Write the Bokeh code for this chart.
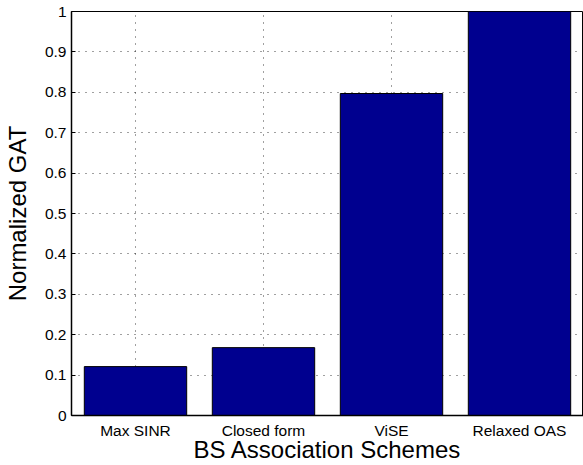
from bokeh.plotting import figure
from bokeh.models import FixedTicker, Range1d, ColumnDataSource
from bokeh.embed import file_html
from bokeh.resources import INLINE

schemes = ["Max SINR", "Closed form", "ViSE", "Relaxed OAS"]
normalized_gat = [0.121, 0.168, 0.797, 1.0]
y_ticks = [0, 0.1, 0.2, 0.3, 0.4, 0.5, 0.6, 0.7, 0.8, 0.9, 1]
y_tick_labels = ["0", "0.1", "0.2", "0.3", "0.4", "0.5", "0.6", "0.7", "0.8", "0.9", "1"]
x_title = "BS Association Schemes"
y_title = "Normalized GAT"

FONT = "Liberation Sans"

x_pos = list(range(1, len(schemes) + 1))
src = ColumnDataSource(data=dict(x=x_pos, top=normalized_gat))

p = figure(width=583, height=465,
           x_range=Range1d(0.5, len(schemes) + 0.5),
           y_range=Range1d(0, 1),
           output_backend="svg", toolbar_location=None,
           min_border_left=70, min_border_right=0,
           min_border_top=11, min_border_bottom=50)

p.vbar(x="x", top="top", width=0.8, source=src,
       fill_color="#00008F", line_color="black", line_width=1)

p.xaxis.ticker = FixedTicker(ticks=x_pos)
p.xaxis.major_label_overrides = dict(zip(x_pos, schemes))
p.xgrid.ticker = FixedTicker(ticks=x_pos)
p.yaxis.ticker = FixedTicker(ticks=y_ticks)
p.yaxis.major_label_overrides = dict(zip(y_ticks, y_tick_labels))
p.ygrid.ticker = FixedTicker(ticks=y_ticks)

for g in (p.xgrid, p.ygrid):
    g.grid_line_color = "black"
    g.grid_line_alpha = 0.75
    g.grid_line_dash = "1 6"
    g.grid_line_width = 1

for ax in (p.xaxis, p.yaxis):
    ax.major_label_text_font = FONT
    ax.major_label_text_font_size = "15.5px"
    ax.major_label_text_color = "black"
    ax.axis_label_text_font = FONT
    ax.axis_label_text_font_size = "24px"
    ax.axis_label_text_font_style = "normal"
    ax.axis_label_text_color = "black"
    ax.axis_line_color = "black"
    ax.axis_line_width = 1.5
    ax.minor_tick_line_color = None

p.xaxis.axis_label = x_title
p.yaxis.axis_label = y_title
p.xaxis.major_tick_in = 0
p.xaxis.major_tick_out = 0
p.xaxis.major_label_standoff = 6
p.xaxis.axis_label_standoff = -6
p.yaxis.major_tick_in = 4
p.yaxis.major_tick_out = 0
p.yaxis.major_tick_line_color = "black"
p.yaxis.major_label_standoff = 5
p.yaxis.axis_label_standoff = 11

p.outline_line_color = "black"
p.outline_line_alpha = 1
p.background_fill_color = "white"
p.border_fill_color = "white"

open("out.html", "w").write(file_html(p, INLINE))
